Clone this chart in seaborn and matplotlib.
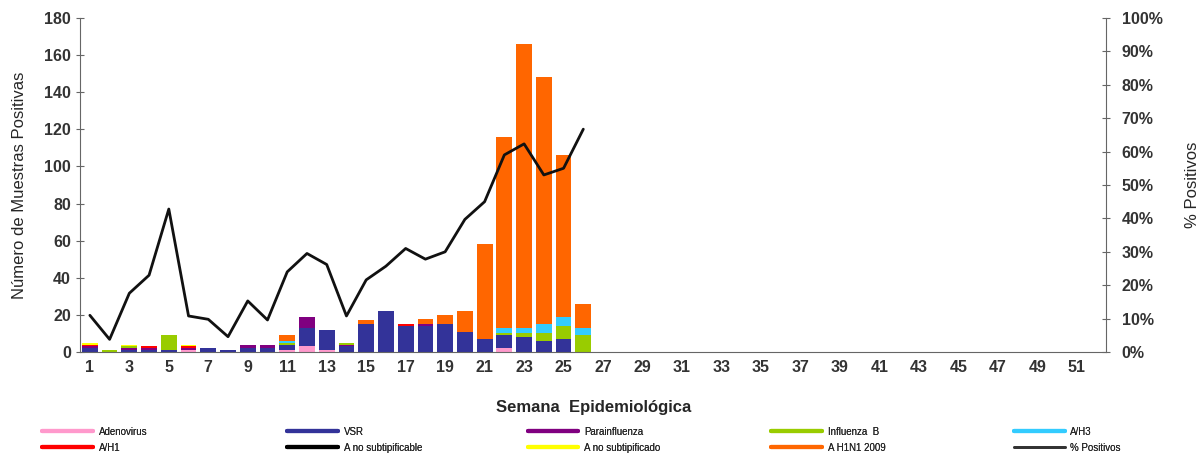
import numpy as np
import pandas as pd
import matplotlib
matplotlib.use("Agg")
import matplotlib.pyplot as plt
import seaborn as sns
from matplotlib.lines import Line2D
from matplotlib.ticker import FuncFormatter, MultipleLocator

# Weekly positive samples by virus (weeks 1-26 reported, axis runs to 52)
weeks = list(range(1, 27))
adenovirus      = [0, 0, 0, 0, 0, 1, 0, 0, 0, 0, 1, 3, 1, 0, 0, 0, 0, 0, 0, 0, 0, 2, 0, 0, 0, 0]
vsr             = [2, 0, 1, 1, 1, 0, 2, 1, 2, 2, 3, 10, 11, 3, 15, 22, 14, 14, 15, 11, 7, 7, 8, 6, 7, 0]
parainfluenza   = [1, 0, 1, 1, 0, 1, 0, 0, 2, 2, 0, 6, 0, 1, 0, 0, 0, 1, 0, 0, 0, 0, 0, 0, 0, 0]
influenza_b     = [0, 1, 1, 0, 8, 0, 0, 0, 0, 0, 1, 0, 0, 1, 0, 0, 0, 0, 0, 0, 0, 1, 2, 4, 7, 9]
a_h3            = [0, 0, 0, 0, 0, 0, 0, 0, 0, 0, 1, 0, 0, 0, 0, 0, 0, 0, 0, 0, 0, 3, 3, 5, 5, 4]
a_h1            = [1, 0, 0, 1, 0, 1, 0, 0, 0, 0, 0, 0, 0, 0, 0, 0, 1, 0, 0, 0, 0, 0, 0, 0, 0, 0]
a_no_subtipificable = [0] * 26
a_no_subtipificado  = [1, 0, 1, 0, 0, 1, 0, 0, 0, 0, 0, 0, 0, 0, 0, 0, 0, 0, 0, 0, 0, 0, 0, 0, 0, 0]
a_h1n1_2009     = [0, 0, 0, 0, 0, 0, 0, 0, 0, 0, 3, 0, 0, 0, 2, 0, 0, 3, 5, 11, 51, 103, 153, 133, 87, 13]
pct_positivos   = [11, 3.8, 17.6, 23, 42.8, 10.8, 9.8, 4.6, 15.3, 9.6, 24, 29.5, 26.2, 10.8,
                   21.6, 25.7, 31, 27.8, 30, 39.7, 45, 59, 62.3, 53, 55, 66.7]

series_names = ["Adenovirus", "VSR", "Parainfluenza", "Influenza  B", "A/H3",
                "A/H1", "A no subtipificable", "A no subtipificado", "A H1N1 2009"]
series_vals = [adenovirus, vsr, parainfluenza, influenza_b, a_h3,
               a_h1, a_no_subtipificable, a_no_subtipificado, a_h1n1_2009]
colors = ["#FF99CC", "#333399", "#800080", "#99CC00", "#33CCFF",
          "#FF0000", "#000000", "#FFFF00", "#FF6600"]

df = pd.DataFrame(dict(zip(series_names, series_vals)), index=weeks)

sns.set_style("white")
plt.rcParams['font.family'] = ['Liberation Sans', 'DejaVu Sans']

fig = plt.figure(figsize=(12.01, 4.59), dpi=100)
ax = fig.add_axes([0.0666, 0.233, 0.8546, 0.728])

bottom = np.zeros(len(df))
for name, col in zip(series_names, colors):
    ax.bar(df.index, df[name].values, bottom=bottom, width=0.8, color=col,
           edgecolor='none')
    bottom += df[name].values

ax.set_xlim(0.5, 52.5)
ax.set_ylim(0, 180)
ax.yaxis.set_major_locator(MultipleLocator(20))
ax.set_xticks(range(1, 52, 2))
ax.set_xticks(np.arange(0.5, 53, 1), minor=True)
ax.tick_params(axis='x', which='major', length=0, labelsize=11.5, pad=6)
ax.tick_params(axis='x', which='minor', length=5, direction='inout', color='#666666')
ax.tick_params(axis='y', length=6, direction='inout', color='#666666', labelsize=11.5)
for lab in ax.get_xticklabels() + ax.get_yticklabels():
    lab.set_fontweight('bold')
    lab.set_color('#333333')
for s in ['left', 'bottom']:
    ax.spines[s].set_color('#666666')
ax.spines['top'].set_visible(False)
ax.spines['right'].set_visible(False)
ax.set_xlabel("Semana  Epidemiológica", fontsize=12, fontweight='bold', labelpad=18)
ax.set_ylabel("Número de Muestras Positivas", fontsize=12, labelpad=12)

ax2 = ax.twinx()
line_df = pd.DataFrame({"week": weeks, "pct": pct_positivos})
sns.lineplot(data=line_df, x="week", y="pct", ax=ax2, color='#111111', linewidth=2)
ax2.set_ylim(0, 100)
ax2.set_xlim(0.5, 52.5)
ax2.yaxis.set_major_locator(MultipleLocator(10))
ax2.yaxis.set_major_formatter(FuncFormatter(lambda v, p: f"{int(v)}%"))
ax2.tick_params(axis='y', length=6, direction='inout', color='#666666', labelsize=11.5, pad=8)
for lab in ax2.get_yticklabels():
    lab.set_fontweight('bold')
    lab.set_color('#333333')
ax2.spines['top'].set_visible(False)
ax2.spines['left'].set_visible(False)
ax2.spines['bottom'].set_visible(False)
ax2.spines['right'].set_color('#666666')
ax2.set_ylabel("% Positivos", fontsize=12, labelpad=16)

# legend: five columns of two entries each, placed at fixed x positions
leg_names = series_names + ["% Positivos"]
leg_colors = colors + ["#333333"]
col_x = [0.028, 0.232, 0.432, 0.635, 0.837]
for c, x0 in enumerate(col_x):
    idx = [c, c + 5]
    handles = [Line2D([0], [0], color=leg_colors[i], lw=3 if i < 9 else 2) for i in idx]
    labels = [leg_names[i] for i in idx]
    leg = fig.legend(handles, labels, loc='lower left', bbox_to_anchor=(x0, -0.005),
                     frameon=False, fontsize=7, handlelength=5.2,
                     labelspacing=0.6, handletextpad=0.6)
    fig.add_artist(leg)

fig.savefig("out.png", dpi=100)
